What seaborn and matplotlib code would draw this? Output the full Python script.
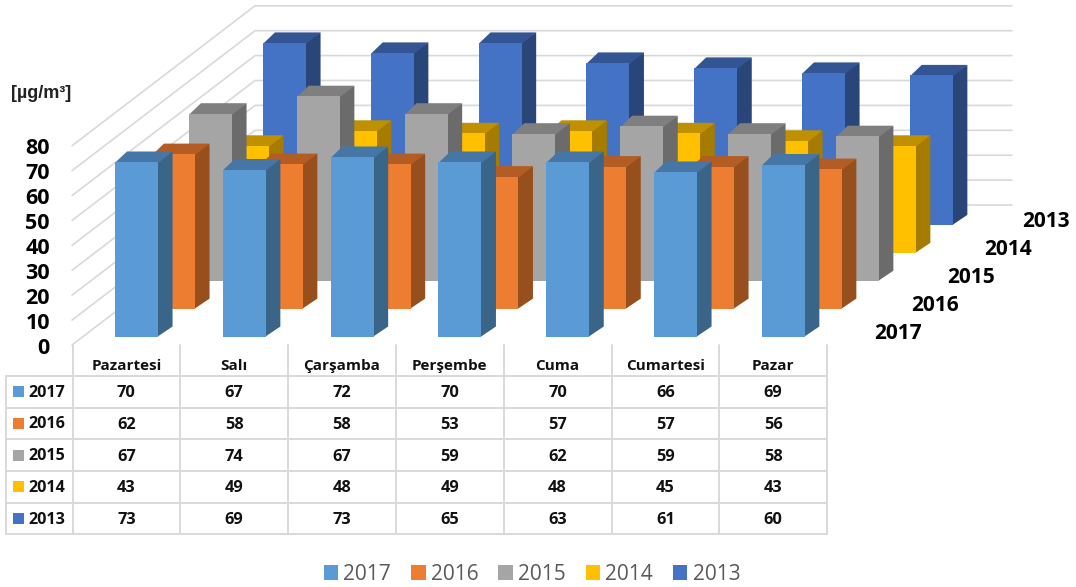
"""Weekly pollutant averages per year as an oblique 3D bar chart with a data table."""
import matplotlib

matplotlib.use("Agg")

import matplotlib.pyplot as plt
import pandas as pd
import seaborn as sns
from matplotlib.patches import Patch, Rectangle

days = ["Pazartesi", "Salı", "Çarşamba", "Perşembe", "Cuma", "Cumartesi", "Pazar"]
years = ["2017", "2016", "2015", "2014", "2013"]
values_2017 = [70, 67, 72, 70, 70, 66, 69]
values_2016 = [62, 58, 58, 53, 57, 57, 56]
values_2015 = [67, 74, 67, 59, 62, 59, 58]
values_2014 = [43, 49, 48, 49, 48, 45, 43]
values_2013 = [73, 69, 73, 65, 63, 61, 60]
y_ticks = [0, 10, 20, 30, 40, 50, 60, 70, 80]

front_colors = ["#5B9BD5", "#ED7D31", "#A5A5A5", "#FFC000", "#4472C4"]
side_colors = ["#3A6488", "#974F1E", "#6B6B6B", "#A67C00", "#2A4678"]
top_colors = ["#4676A5", "#B35C24", "#7F7F7F", "#BF9000", "#335593"]

WIDTH, HEIGHT = 1076, 587
COL_STEP = 107.8  # px per weekday
UNIT = 2.5  # px per value unit
ROW_DX, ROW_DY = 37.0, 27.9  # px shift from one year row to the next
GRID = "#D9D9D9"
TEXT_FONT = "Open Sans"

series = [values_2017, values_2016, values_2015, values_2014, values_2013]
df = pd.DataFrame(
    [
        {"day": d, "year": y, "value": v}
        for y, vals in zip(years, series)
        for d, v in zip(days, vals)
    ]
)

sns.set_theme(style="white")
plt.rcParams["font.family"] = [TEXT_FONT, "DejaVu Sans"]

fig = plt.figure(figsize=(WIDTH / 100, HEIGHT / 100), dpi=100)

# background axes in pixel coordinates: walls, table and labels
bg = fig.add_axes([0, 0, 1, 1])
bg.set_xlim(0, WIDTH)
bg.set_ylim(HEIGHT, 0)
bg.set_axis_off()

for t in y_ticks:
    y_front = 345 - t * 2.49
    y_back = 205 - t * 2.49
    bg.plot([72, 255, 1012], [y_front, y_back, y_back], color=GRID, lw=1.2, solid_joinstyle="miter")
    bg.text(50, 348 - t * 2.49, str(t), ha="right", va="center", fontsize=15.5, fontweight="bold", color="black")

bg.text(11, 93, "[µg/m³]", ha="left", va="center", fontsize=13, fontweight="bold",
        family="Liberation Sans", color="#222222")

# depth axis labels
for i, year in enumerate(years):
    bg.text(897.5 + i * 37, 333.5 - i * 28, year, ha="center", va="center", fontsize=15,
            fontweight="bold", color="black")

# one transparent axes per year, back row first so front rows cover it
for i in reversed(range(len(years))):
    year = years[i]
    left = 136.5 - COL_STEP / 2 + i * ROW_DX
    bottom = 337 - i * ROW_DY
    ax = fig.add_axes(
        [left / WIDTH, (HEIGHT - bottom) / HEIGHT, 7 * COL_STEP / WIDTH, 80 * UNIT / HEIGHT]
    )
    ax.patch.set_alpha(0)
    sns.barplot(
        data=df[df["year"] == year],
        x="day",
        y="value",
        order=days,
        color=front_colors[i],
        saturation=1,
        width=0.4,
        linewidth=0,
        ax=ax,
    )
    ax.set_xlim(-0.5, 6.5)
    ax.set_ylim(0, 80)
    ax.set_axis_off()

    dx_right, dx_left, dy = 14.5 / COL_STEP, 12 / COL_STEP, 10.5 / UNIT
    overlap = 0.01  # hides the antialiasing seam under the front face
    for bar in list(ax.patches):
        bar.set_zorder(2)
        x0 = bar.get_x()
        x1 = x0 + bar.get_width()
        h = bar.get_height()
        ax.fill([x1 - overlap, x1 + dx_right, x1 + dx_right, x1 - overlap], [0, dy, h + dy, h],
                color=side_colors[i], lw=0, clip_on=False, zorder=1)
        ax.fill([x0, x1, x1 + dx_right, x0 + dx_left],
                [h - 0.4, h - 0.4, h + dy, h + dy],
                color=top_colors[i], lw=0, clip_on=False, zorder=1.5)

# data table on top
fg = fig.add_axes([0, 0, 1, 1])
fg.set_xlim(0, WIDTH)
fg.set_ylim(HEIGHT, 0)
fg.set_axis_off()
fg.patch.set_alpha(0)

col_x = [72.5 + k * COL_STEP for k in range(len(days) + 1)]
row_y = [375.7, 407.5, 439.3, 471, 502.7, 534.3]
for k, x in enumerate(col_x):
    fg.plot([x, x], [345, row_y[-1]], color=GRID, lw=1.4)
for y in row_y:
    fg.plot([6, col_x[-1]], [y, y], color=GRID, lw=1.4)
fg.plot([6, 6], [row_y[0], row_y[-1]], color=GRID, lw=1.4)

for k, day in enumerate(days):
    cx = (col_x[k] + col_x[k + 1]) / 2
    fg.text(cx, 366, day, ha="center", va="center", fontsize=11, fontweight="bold", color="#111111")

for r, (year, vals) in enumerate(zip(years, series)):
    cy = (row_y[r] + row_y[r + 1]) / 2
    fg.add_patch(Rectangle((13, cy - 5.5), 11, 11, color=front_colors[r], lw=0))
    fg.text(28, cy + 1, year, ha="left", va="center", fontsize=11.6, fontweight="bold", color="#111111")
    for k, v in enumerate(vals):
        cx = (col_x[k] + col_x[k + 1]) / 2
        fg.text(cx, cy + 1.5, str(v), ha="center", va="center", fontsize=11.8, fontweight="bold", color="#111111")

handles = [Patch(color=c, label=y, lw=0) for c, y in zip(front_colors, years)]
leg = fig.legend(
    handles=handles,
    loc="center",
    bbox_to_anchor=(532 / WIDTH, 1 - 574 / HEIGHT),
    ncol=5,
    frameon=False,
    fontsize=15,
    handlelength=0.7,
    handleheight=0.7,
    handletextpad=0.25,
    columnspacing=0.95,
    labelcolor="#595959",
    borderpad=0,
)

fig.savefig("out.png", dpi=100)
plt.close(fig)
